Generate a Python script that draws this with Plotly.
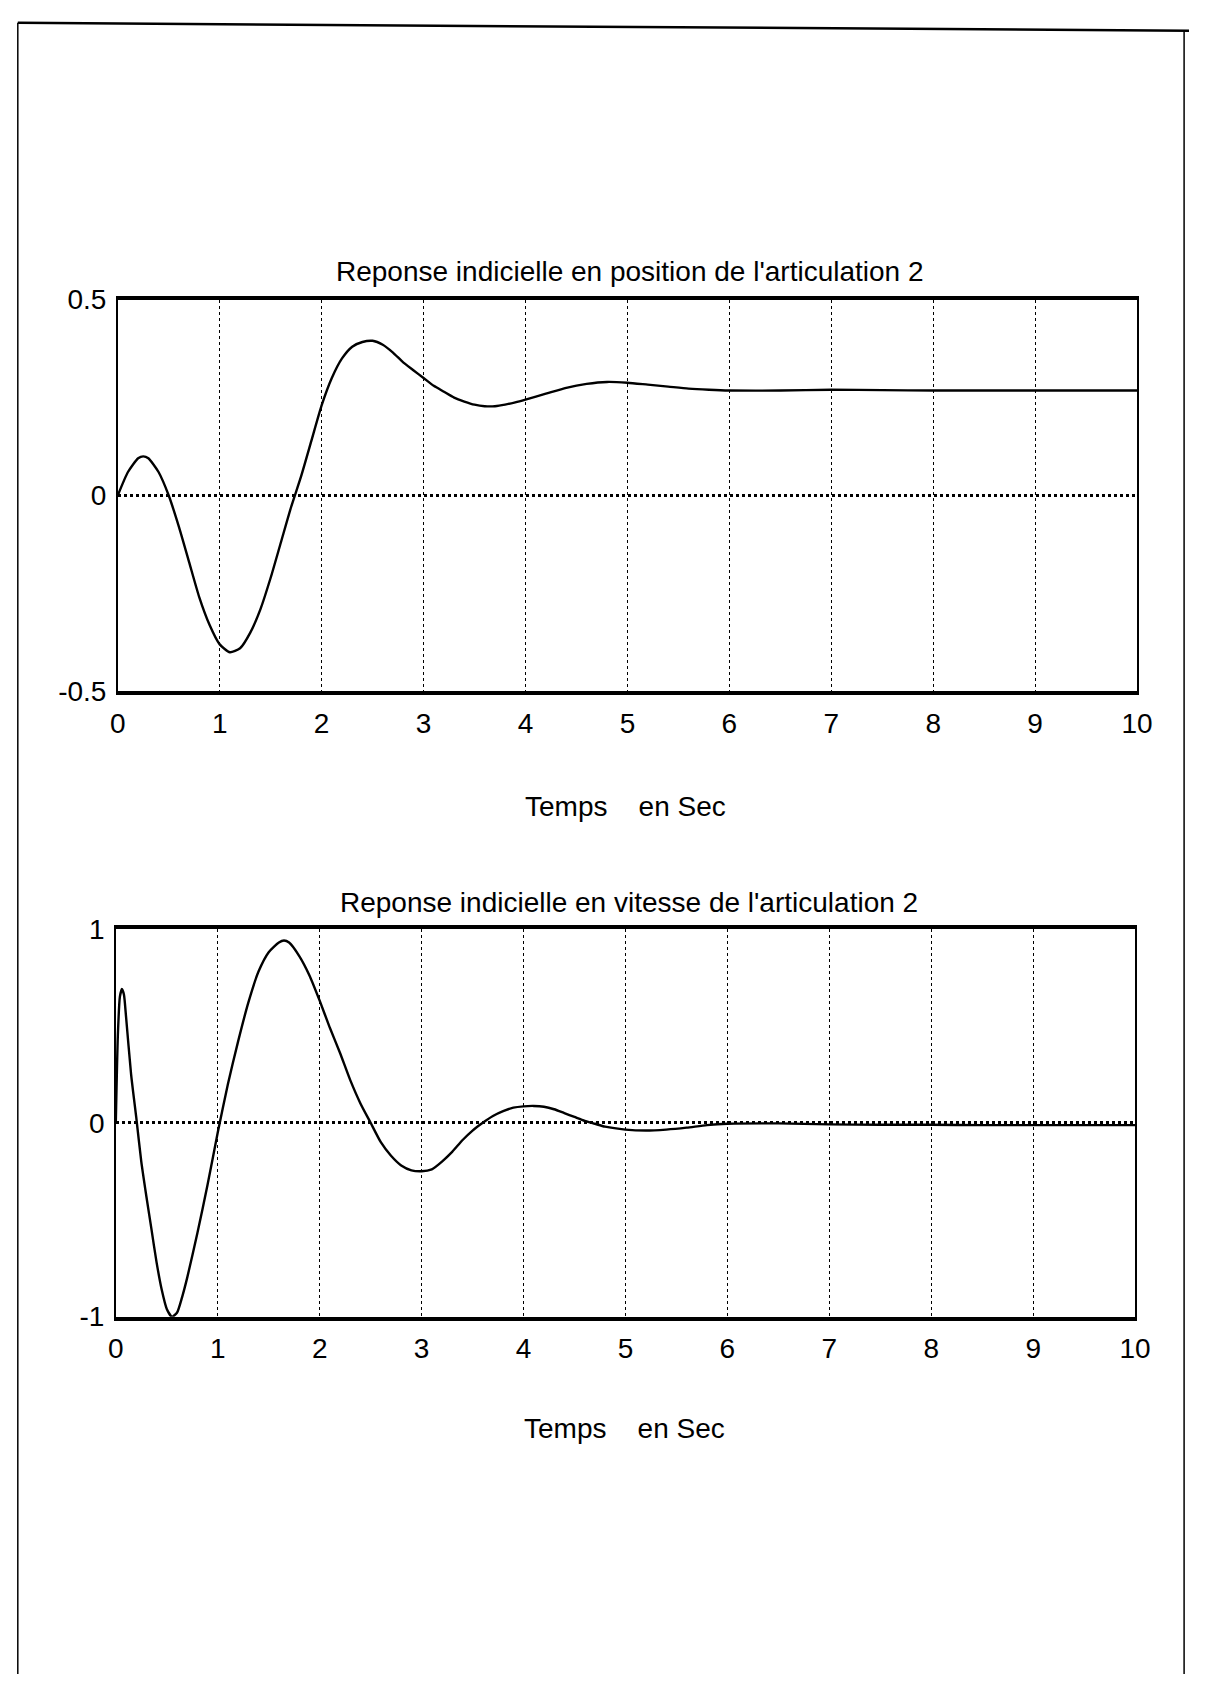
import plotly.graph_objects as go

# ---- data ----
t_pos = [0, 0.1, 0.2, 0.25, 0.3, 0.4, 0.5, 0.6, 0.7, 0.8, 0.9, 1.0, 1.1, 1.2, 1.3, 1.4, 1.5,
         1.6, 1.7, 1.8, 1.9, 2.0, 2.1, 2.2, 2.3, 2.4, 2.5, 2.6, 2.7, 2.8, 2.9, 3.0, 3.1, 3.2,
         3.3, 3.4, 3.5, 3.6, 3.7, 3.8, 3.9, 4.0, 4.2, 4.4, 4.6, 4.8, 5.0, 5.2, 5.4, 5.6, 5.8,
         6.0, 6.5, 7.0, 7.5, 8.0, 8.5, 9.0, 9.5, 10.0]
y_pos = [0, 0.06, 0.095, 0.10, 0.095, 0.06, 0.0, -0.08, -0.17, -0.26, -0.33, -0.38, -0.40,
         -0.39, -0.35, -0.29, -0.21, -0.12, -0.03, 0.05, 0.14, 0.23, 0.30, 0.35, 0.38, 0.392,
         0.395, 0.385, 0.365, 0.34, 0.32, 0.30, 0.28, 0.265, 0.25, 0.24, 0.232, 0.228, 0.228,
         0.232, 0.238, 0.245, 0.26, 0.275, 0.285, 0.29, 0.288, 0.283, 0.278, 0.273, 0.27,
         0.268, 0.268, 0.27, 0.269, 0.268, 0.268, 0.268, 0.268, 0.268]

t_vel = [0, 0.02, 0.04, 0.06, 0.08, 0.1, 0.15, 0.2, 0.25, 0.3, 0.35, 0.4, 0.45, 0.5, 0.55,
         0.6, 0.65, 0.7, 0.8, 0.9, 1.0, 1.1, 1.2, 1.3, 1.4, 1.5, 1.6, 1.65, 1.7, 1.8, 1.9,
         2.0, 2.1, 2.2, 2.3, 2.4, 2.5, 2.6, 2.7, 2.8, 2.9, 3.0, 3.1, 3.2, 3.3, 3.4, 3.5, 3.6,
         3.7, 3.8, 3.9, 4.0, 4.1, 4.2, 4.3, 4.4, 4.5, 4.6, 4.7, 4.8, 5.0, 5.2, 5.4, 5.6, 5.8,
         6.0, 6.5, 7.0, 7.5, 8.0, 8.5, 9.0, 9.5, 10.0]
y_vel = [0, 0.45, 0.65, 0.69, 0.66, 0.55, 0.25, 0.03, -0.2, -0.38, -0.55, -0.72, -0.86, -0.96,
         -1.0, -0.98, -0.9, -0.8, -0.57, -0.32, -0.05, 0.20, 0.42, 0.62, 0.78, 0.88, 0.93,
         0.94, 0.93, 0.86, 0.76, 0.63, 0.49, 0.36, 0.22, 0.1, 0.0, -0.1, -0.17, -0.22, -0.245,
         -0.25, -0.24, -0.2, -0.15, -0.09, -0.04, 0.0, 0.035, 0.06, 0.078, 0.085, 0.087, 0.083,
         0.07, 0.05, 0.03, 0.01, -0.005, -0.02, -0.035, -0.04, -0.035, -0.025, -0.012, -0.005,
         -0.003, -0.008, -0.01, -0.01, -0.012, -0.012, -0.012, -0.012]

x_ticks = [0, 1, 2, 3, 4, 5, 6, 7, 8, 9, 10]
y_ticks_pos = [-0.5, 0, 0.5]
y_tick_labels_pos = ["-0.5", "0", "0.5"]
y_ticks_vel = [-1, 0, 1]
y_tick_labels_vel = ["-1", "0", "1"]

title_pos = "Reponse indicielle en position de l'articulation 2"
title_vel = "Reponse indicielle en vitesse de l'articulation 2"
x_title = "Temps\u00a0\u00a0\u00a0 en Sec"

W, H = 1205, 1690
FONT = "Liberation Sans"

def px_x(v):
    return v / W

def px_y(v):
    return 1 - v / H

fig = go.Figure()
fig.add_trace(go.Scatter(x=t_pos, y=y_pos, mode="lines", line=dict(color="black", width=2.4,
                         shape="spline", smoothing=0.6), xaxis="x", yaxis="y", showlegend=False))
fig.add_trace(go.Scatter(x=t_vel, y=y_vel, mode="lines", line=dict(color="black", width=2.4,
                         shape="spline", smoothing=0.6), xaxis="x2", yaxis="y2", showlegend=False))

xcommon = dict(range=[0, 10], tickvals=x_ticks, showgrid=True, gridcolor="black", gridwidth=1,
               griddash="dot", showline=True, linecolor="black", linewidth=4, mirror=True,
               zeroline=False, ticks="", tickfont=dict(family=FONT, size=28, color="black"),
               ticklabelstandoff=4)
ycommon = dict(showgrid=True, gridcolor="black", gridwidth=3, griddash="dot", showline=True,
               linecolor="black", linewidth=1.5, mirror=True, zeroline=False, ticks="",
               tickfont=dict(family=FONT, size=28, color="black"), ticklabelstandoff=4)

fig.update_layout(
    width=W, height=H, margin=dict(l=0, r=0, t=0, b=0),
    paper_bgcolor="white", plot_bgcolor="white",
    xaxis=dict(domain=[px_x(112), px_x(1152)], anchor="y", **xcommon),
    yaxis=dict(domain=[px_y(689), px_y(290)], anchor="x", range=[-0.5, 0.5],
               tickvals=y_ticks_pos, ticktext=y_tick_labels_pos, **ycommon),
    xaxis2=dict(domain=[px_x(110), px_x(1150)], anchor="y2", **xcommon),
    yaxis2=dict(domain=[px_y(1326), px_y(931)], anchor="x2", range=[-1, 1],
                tickvals=y_ticks_vel, ticktext=y_tick_labels_vel, **ycommon),
)

title_font = dict(family=FONT, size=28, color="black")
xt_font = dict(family=FONT, size=28, color="black")
fig.add_annotation(text=title_pos, x=px_x(635), y=px_y(261), xref="paper", yref="paper",
                   showarrow=False, font=title_font, xanchor="center", yanchor="middle")
fig.add_annotation(text=x_title, x=px_x(630), y=px_y(806), xref="paper", yref="paper",
                   showarrow=False, font=xt_font, xanchor="center", yanchor="middle")
fig.add_annotation(text=title_vel, x=px_x(634), y=px_y(904), xref="paper", yref="paper",
                   showarrow=False, font=title_font, xanchor="center", yanchor="middle")
fig.add_annotation(text=x_title, x=px_x(629), y=px_y(1440), xref="paper", yref="paper",
                   showarrow=False, font=xt_font, xanchor="center", yanchor="middle")

# page border of the scanned sheet
for (x0, y0, x1, y1, w) in [(10, 8, 1205, 16, 2.5), (10, 8, 10, 1690, 1.5),
                            (1200, 16, 1200, 1690, 1.5)]:
    fig.add_shape(type="line", xref="paper", yref="paper", x0=px_x(x0), y0=px_y(y0),
                  x1=px_x(x1), y1=px_y(y1), line=dict(color="black", width=w))

fig.write_html("out.html", config={"displayModeBar": False},
               post_script="document.body.style.margin='0';")
